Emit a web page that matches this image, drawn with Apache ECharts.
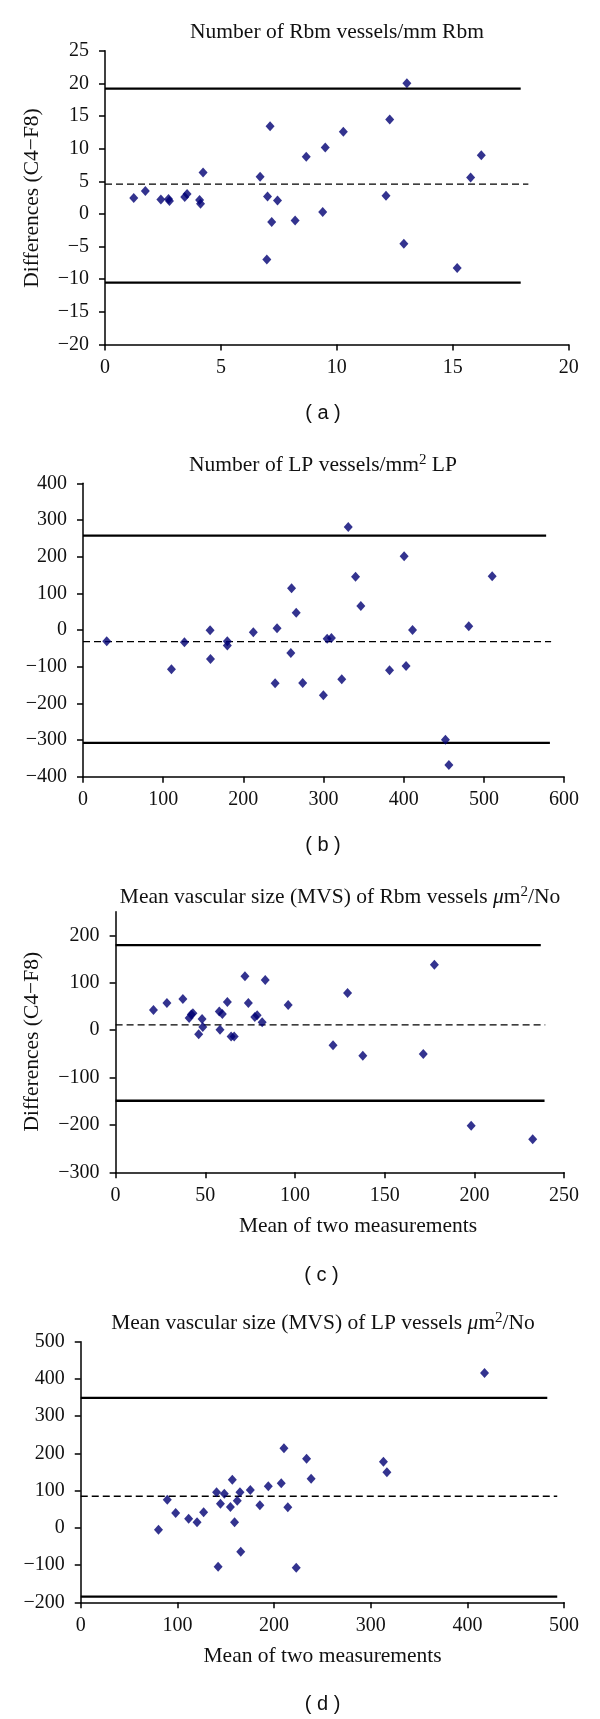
<!DOCTYPE html>
<html>
<head>
<meta charset="utf-8">
<script src="https://cdn.jsdelivr.net/npm/echarts@6/dist/echarts.min.js"></script>
<style>
html,body{margin:0;padding:0;background:#fff;}
#c{width:600px;height:1719px;}
</style>
</head>
<body>
<div id="c"></div>
<script>
// Panel (a): Number of Rbm vessels/mm Rbm
const aX = [1.24,1.74,2.41,2.74,2.78,3.44,3.54,4.08,4.12,4.23,6.69,6.98,7.01,7.12,7.19,7.44,8.20,8.68,9.39,9.50,10.28,12.12,12.28,12.89,13.02,15.19,15.77,16.23];
const aY = [2.43,3.5,2.22,2.27,1.97,2.58,3.04,2.12,1.56,6.34,5.69,-7.0,2.68,13.43,-1.24,2.07,-0.99,8.75,0.29,10.18,12.57,2.78,14.45,-4.56,20.0,-8.28,5.59,9.0];
const aLimits = {upper:19.19, mean:4.57, lower:-10.52, upperEnd:17.93, meanEnd:18.26, lowerEnd:17.93};

// Panel (b): Number of LP vessels/mm2 LP
const bX = [29.6,110.3,126.5,158.5,159,180,180,212.4,239.6,242,259.2,260.1,265.9,274,299.8,304.5,309.8,322.7,330.8,339.9,346.5,382.3,400.5,402.9,411,452,456.3,481.1,510.3];
const bY = [-30.9,-107,-33.6,-1,-79,-31,-42,-6.4,-145,4.5,-62.7,113.6,47.3,-144.5,-178,-23.6,-21.8,-134.5,281,145.5,65.5,-110,201,-98,0,-299,-368,10,146.4];
const bLimits = {upper:257.3, mean:-31.8, lower:-308, upperEnd:577.6, meanEnd:583.8, lowerEnd:582.3};

// Panel (c): MVS of Rbm vessels
const cX = [21.1,28.6,37.5,41.0,42.2,43.1,46.3,48.2,48.6,57.8,58.2,59.5,62.3,64.4,66.1,72.1,74.0,77.6,78.9,81.7,83.4,96.2,121.2,129.3,137.8,171.5,177.7,198.2,232.5];
const cY = [42.7,57.4,65.9,25.8,32.9,35.7,-8.6,23.7,6.9,39.2,0.6,34.3,59.6,-13.5,-13.5,113.6,57.4,28,31.5,16.7,105.9,53.2,-31.7,78.5,-53.9,-50.4,138.1,-201.5,-230.3];
const cLimits = {upper:179.6, mean:11.1, lower:-149, upperEnd:237, meanEnd:239.5, lowerEnd:239.1};

// Panel (d): MVS of LP vessels
const dX = [80.4,89.5,98.2,111.6,120.3,127.1,140.5,142.1,144.5,148.5,154.8,156.8,159.1,161.9,164.7,165.5,175.4,185.3,194,207.4,210.2,214.2,222.9,233.6,238.3,313.1,316.7,417.7];
const dY = [-4.8,75.7,39.9,24.7,14.9,41.7,95.4,-104.2,65,91.9,56,129.5,14.9,73,95.4,-63.9,101.7,60.5,111.5,119.6,213.6,55.1,-106.9,185.8,132.1,177.8,149.2,415.9];
const dLimits = {upper:348.9, mean:84.7, lower:-184.8, upperEnd:482.6, meanEnd:492.9, lowerEnd:492.9};

const titles = ['{n|Number of Rbm vessels/mm Rbm}',
  '{n|Number of LP vessels/mm}{s|2}{n| LP}',
  '{n|Mean vascular size (MVS) of Rbm vessels }{i|\u03BC}{n|m}{s|2}{n|/No}',
  '{n|Mean vascular size (MVS) of LP vessels }{i|\u03BC}{n|m}{s|2}{n|/No}'];
const panelLabels = ['( a )','( b )','( c )','( d )'];
const yName = 'Differences (C4\u2212F8)';
const xName = 'Mean of two measurements';

const axisRanges = [
  {xmin:0,xmax:20,xint:5,ymin:-20,ymax:25,yint:5},
  {xmin:0,xmax:600,xint:100,ymin:-400,ymax:400,yint:100},
  {xmin:0,xmax:250,xint:50,ymin:-300,ymax:250,yint:100,yTicks:[-300,-200,-100,0,100,200]},
  {xmin:0,xmax:500,xint:100,ymin:-200,ymax:500,yint:100}
];

const SERIF = '"Liberation Serif","Times New Roman",serif';
const TXT = '#111';
const grids = [
  {left:105, right:31.3, top:50.7, height:293.8},
  {left:83, right:35.9, top:483.3, height:293.4},
  {left:115.6, right:35.9, top:911.7, height:260.6},
  {left:80.75, right:35.9, top:1341.7, height:260.6}
];
const fmt = v => String(v).replace('-', '\u2212');

const xs=[aX,bX,cX,dX], ys=[aY,bY,cY,dY], lims=[aLimits,bLimits,cLimits,dLimits];
const xAxes=[], yAxes=[], series=[];
for (let i=0;i<4;i++){
  const r = axisRanges[i];
  xAxes.push({gridIndex:i,type:'value',min:r.xmin,max:r.xmax,interval:r.xint,
    axisLine:{onZero:false,lineStyle:{color:'#000',width:1.5}},
    axisTick:{length:6,lineStyle:{color:'#000',width:1.5}},
    axisLabel:{fontFamily:SERIF,fontSize:20,color:TXT,margin:13,formatter:fmt},
    splitLine:{show:false}});
  const ya = {gridIndex:i,type:'value',min:r.ymin,max:r.ymax,interval:r.yint,
    axisLine:{show:true,onZero:false,lineStyle:{color:'#000',width:1.5}},
    axisTick:{show:true,length:6,lineStyle:{color:'#000',width:1.5}},
    axisLabel:{fontFamily:SERIF,fontSize:20,color:TXT,margin:16,formatter:fmt},
    splitLine:{show:false}};
  if (r.yTicks){ ya.axisTick.customValues = r.yTicks; ya.axisLabel.customValues = r.yTicks; }
  yAxes.push(ya);
  const L = lims[i];
  const lineBase = {type:'line',xAxisIndex:i,yAxisIndex:i,showSymbol:false,symbol:'none',silent:true,z:1,animation:false};
  series.push(Object.assign({},lineBase,{data:[[0,L.upper],[L.upperEnd,L.upper]],lineStyle:{color:'#000',width:2.3}}));
  series.push(Object.assign({},lineBase,{data:[[0,L.lower],[L.lowerEnd,L.lower]],lineStyle:{color:'#000',width:2.3}}));
  series.push(Object.assign({},lineBase,{data:[[0,L.mean],[L.meanEnd,L.mean]],lineStyle:{color:'#000',width:1.4,type:[7,4]}}));
  series.push({type:'scatter',xAxisIndex:i,yAxisIndex:i,symbol:'diamond',symbolSize:[9,10],z:3,animation:false,
    itemStyle:{color:'#000073'},data:xs[i].map((x,k)=>[x,ys[i][k]])});
}

const titlePos = [[337,32],[323,465],[340,897],[323,1323]];
const labelPos = [[323,413],[323,845],[321.5,1275],[322.6,1704]];
const richT = {
  n:{fontFamily:SERIF,fontSize:21.5,fill:TXT,lineHeight:26},
  i:{fontFamily:SERIF,fontSize:21.5,fontStyle:'italic',fill:TXT,lineHeight:26},
  s:{fontFamily:SERIF,fontSize:15,fill:TXT,lineHeight:26,verticalAlign:'top',padding:[1,0,0,0]}
};
const graphics = [];
for (let i=0;i<4;i++){
  graphics.push({type:'text',x:titlePos[i][0],y:titlePos[i][1],style:{text:titles[i],font:'21.5px '+SERIF,fill:TXT,align:'center',verticalAlign:'middle',rich:richT}});
  graphics.push({type:'text',x:labelPos[i][0],y:labelPos[i][1],style:{text:panelLabels[i],font:'20px "Liberation Sans",Arial,sans-serif',fill:TXT,align:'center',verticalAlign:'middle'}});
}
graphics.push({type:'text',x:32.5,y:198,rotation:Math.PI/2,style:{text:yName,font:'21.5px '+SERIF,fill:TXT,align:'center',verticalAlign:'middle'}});
graphics.push({type:'text',x:32.5,y:1041.7,rotation:Math.PI/2,style:{text:yName,font:'21.5px '+SERIF,fill:TXT,align:'center',verticalAlign:'middle'}});
graphics.push({type:'text',x:358,y:1226.7,style:{text:xName,font:'21.5px '+SERIF,fill:TXT,align:'center',verticalAlign:'middle'}});
graphics.push({type:'text',x:322.6,y:1656.7,style:{text:xName,font:'21.5px '+SERIF,fill:TXT,align:'center',verticalAlign:'middle'}});

const chart = echarts.init(document.getElementById('c'), null, {renderer:'canvas'});
chart.setOption({
  backgroundColor:'#fff',
  animation:false,
  grid:grids,
  xAxis:xAxes,
  yAxis:yAxes,
  series:series,
  graphic:graphics
});
</script>
</body>
</html>
